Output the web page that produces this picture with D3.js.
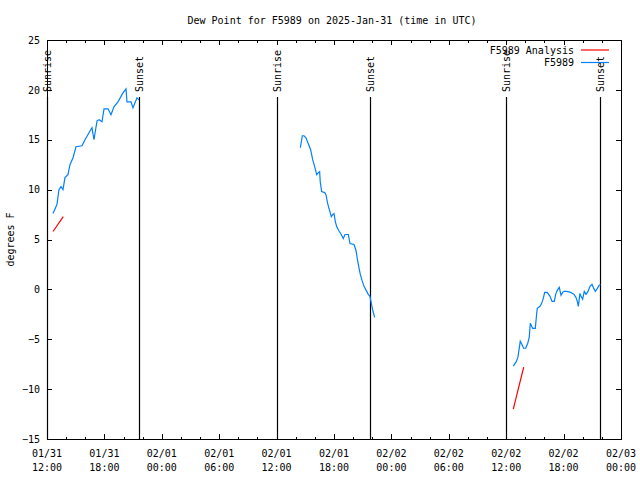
<!DOCTYPE html>
<html>
<head>
<meta charset="utf-8">
<script src="https://cdn.jsdelivr.net/npm/d3@7"></script>
<style>
  html, body { margin: 0; padding: 0; background: #fff; }
  svg { display: block; }
  text { font-family: "DejaVu Sans Mono", "Liberation Mono", monospace; font-size: 10px; fill: #000; }
</style>
</head>
<body>
<svg id="chart" width="640" height="480"></svg>
<script>
// ---- Data (hours since 2025-01-31 12:00 UTC) ----
const startTime = Date.UTC(2025, 0, 31, 12, 0);
const endTime = Date.UTC(2025, 1, 3, 0, 0);

const obs1Hours = [0.63, 1.04, 1.25, 1.46, 1.67, 1.88, 2.19, 2.40, 2.72, 3.03, 3.66, 3.97, 4.39, 4.70, 4.91, 5.23, 5.44, 5.75, 5.96, 6.38, 6.69, 7.00, 7.42, 7.94, 8.26, 8.36, 8.78, 8.99, 9.41, 9.62];
const obs1Vals  = [7.6, 8.5, 10.0, 10.3, 10.0, 11.2, 11.5, 12.5, 13.2, 14.3, 14.4, 15.0, 15.7, 16.2, 15.0, 16.9, 17.0, 16.8, 18.1, 18.1, 17.5, 18.3, 18.8, 19.7, 20.1, 18.8, 18.8, 18.2, 19.2, 19.0];

const obs2Hours = [26.48, 26.55, 26.69, 26.86, 27.07, 27.31, 27.56, 27.77, 27.98, 28.19, 28.36, 28.50, 28.56, 28.71, 29.03, 29.16, 29.34, 29.51, 29.72, 29.86, 30.00, 30.14, 30.28, 30.49, 30.76, 30.97, 31.15, 31.50, 31.67, 32.09, 32.30, 32.43, 32.58, 32.75, 32.93, 33.14, 33.42, 33.58, 33.76, 33.94, 34.08, 34.25];
const obs2Vals  = [14.2, 14.6, 15.4, 15.4, 15.2, 14.6, 14.0, 13.0, 12.3, 11.5, 11.7, 11.8, 10.8, 9.8, 9.7, 9.5, 8.6, 8.0, 7.3, 7.5, 7.6, 6.8, 6.3, 5.9, 5.5, 5.1, 5.5, 5.5, 4.6, 4.5, 3.9, 3.1, 2.3, 1.5, 0.9, 0.3, -0.2, -0.5, -0.7, -1.6, -2.2, -2.8];

const obs3Hours = [48.74, 49.02, 49.23, 49.47, 49.68, 49.83, 50.04, 50.25, 50.41, 50.52, 50.66, 50.77, 51.04, 51.19, 51.25, 51.53, 51.71, 51.88, 52.02, 52.29, 52.58, 52.79, 53.03, 53.17, 53.34, 53.55, 53.73, 53.90, 54.04, 54.32, 54.74, 55.08, 55.29, 55.43, 55.54, 55.71, 55.82, 55.99, 56.16, 56.34, 56.55, 56.76, 56.97, 57.15, 57.32, 57.53, 57.71, 57.85];
const obs3Vals  = [-7.7, -7.3, -6.8, -5.2, -5.6, -5.9, -5.9, -5.4, -4.8, -3.4, -3.7, -3.9, -3.9, -2.4, -1.9, -1.7, -1.4, -0.9, -0.3, -0.3, -0.7, -1.2, -1.2, -0.5, -0.1, 0.2, -0.6, -0.3, -0.2, -0.2, -0.3, -0.5, -0.8, -1.2, -1.7, -0.4, -0.7, -1.0, -0.2, -0.5, -0.2, 0.3, 0.5, 0.1, -0.2, 0.1, 0.4, 0.5];

const ana1Hours = [0.63, 1.70];
const ana1Vals  = [5.8, 7.3];
const ana3Hours = [48.74, 49.83];
const ana3Vals  = [-12.0, -7.8];

const sunHours  = [0.0, 9.62, 24.04, 33.76, 47.98, 57.80];
const sunLabels = ["Sunrise", "Sunset", "Sunrise", "Sunset", "Sunrise", "Sunset"];

const yTicks = [-15, -10, -5, 0, 5, 10, 15, 20, 25];
const xTickLabels = [["01/31","12:00"],["01/31","18:00"],["02/01","00:00"],["02/01","06:00"],["02/01","12:00"],["02/01","18:00"],["02/02","00:00"],["02/02","06:00"],["02/02","12:00"],["02/02","18:00"],["02/03","00:00"]];

const titleText = "Dew Point for F5989 on 2025-Jan-31 (time in UTC)";
const yLabel = "degrees F";
const legendNames = ["F5989 Analysis", "F5989"];
const colors = { analysis: "#ff0000", obs: "#0080ff" };

// ---- Layout ----
const W = 640, H = 480;
const m = { left: 47, right: 19, top: 40, bottom: 41 };
const x0 = m.left, x1 = W - m.right, y0 = m.top, y1 = H - m.bottom;

const toDate = h => new Date(startTime + h * 3600e3);
const x = d3.scaleUtc().domain([new Date(startTime), new Date(endTime)]).range([x0, x1]);
const y = d3.scaleLinear().domain([-15, 25]).range([y1, y0]);

const svg = d3.select("#chart");
svg.append("rect").attr("width", W).attr("height", H).attr("fill", "#fff");

// Axes (ticks inside, mirrored)
const majorTimes = d3.range(0, 61, 6).map(toDate);
const minorTimes = d3.range(0, 61, 2).filter(h => h % 6 !== 0).map(toDate);

function addAxis(gen, tx, ty) {
  const g = svg.append("g").attr("transform", `translate(${tx},${ty})`).call(gen);
  g.select(".domain").remove();
  g.selectAll("line").attr("stroke", "#000").attr("shape-rendering", "crispEdges");
  return g;
}
// bottom major with labels
const gxb = addAxis(d3.axisBottom(x).tickValues(majorTimes).tickSize(-5).tickFormat(""), 0, y1);
// bottom minor
addAxis(d3.axisBottom(x).tickValues(minorTimes).tickSize(-2.5).tickFormat(""), 0, y1);
// top major/minor
addAxis(d3.axisTop(x).tickValues(majorTimes).tickSize(-5).tickFormat(""), 0, y0);
addAxis(d3.axisTop(x).tickValues(minorTimes).tickSize(-2.5).tickFormat(""), 0, y0);
// left/right
const gyl = addAxis(d3.axisLeft(y).tickValues(yTicks).tickSize(-5).tickPadding(12).tickFormat(d3.format("d")), x0, 0);
gyl.selectAll("text").attr("font-family", "DejaVu Sans Mono").attr("font-size", 10).attr("x", -7).attr("fill", "#000");
addAxis(d3.axisRight(y).tickValues(yTicks).tickSize(-5).tickFormat(""), x1, 0);

// x tick labels (two lines)
const xl = svg.append("g");
majorTimes.forEach((t, i) => {
  const tx = x(t);
  const txt = xl.append("text").attr("text-anchor", "middle").attr("x", tx).attr("y", 457);
  txt.append("tspan").attr("x", tx).attr("y", 457).text(xTickLabels[i][0]);
  txt.append("tspan").attr("x", tx).attr("y", 471).text(xTickLabels[i][1]);
});

// Frame
svg.append("rect").attr("x", x0 + 0.5).attr("y", y0 + 0.5).attr("width", x1 - x0).attr("height", y1 - y0)
  .attr("fill", "none").attr("stroke", "#000").attr("stroke-width", 1);

// Sunrise/Sunset lines
sunHours.forEach((h, i) => {
  const sx = Math.round(x(toDate(h))) + 0.5;
  svg.append("line").attr("x1", sx).attr("x2", sx).attr("y1", 97).attr("y2", y1)
    .attr("stroke", "#000").attr("stroke-width", 1.2);
  svg.append("text").attr("transform", `translate(${sx + 3.5},92) rotate(-90)`)
    .attr("text-anchor", "start").text(sunLabels[i]);
});

// Lines
const line = d3.line().x(d => x(toDate(d[0]))).y(d => y(d[1]));
const zip = (a, b) => a.map((v, i) => [v, b[i]]);
[[obs1Hours, obs1Vals], [obs2Hours, obs2Vals], [obs3Hours, obs3Vals]].forEach(([hs, vs]) => {
  svg.append("path").attr("d", line(zip(hs, vs))).attr("fill", "none")
    .attr("stroke", colors.obs).attr("stroke-width", 1.2);
});
[[ana1Hours, ana1Vals], [ana3Hours, ana3Vals]].forEach(([hs, vs]) => {
  svg.append("path").attr("d", line(zip(hs, vs))).attr("fill", "none")
    .attr("stroke", colors.analysis).attr("stroke-width", 1.2);
});

// Legend
const legendColors = [colors.analysis, colors.obs];
legendNames.forEach((n, i) => {
  const ly = 50 + i * 12.5;
  svg.append("text").attr("x", 574).attr("y", ly + 3.5).attr("text-anchor", "end").text(n);
  svg.append("line").attr("x1", 581).attr("x2", 609).attr("y1", ly).attr("y2", ly)
    .attr("stroke", legendColors[i]).attr("stroke-width", 1.2);
});

// Title & y label
svg.append("text").attr("x", 332).attr("y", 24).attr("text-anchor", "middle").text(titleText);
svg.append("text").attr("transform", `translate(14,${(y0 + y1) / 2}) rotate(-90)`)
  .attr("text-anchor", "middle").text(yLabel);
</script>
</body>
</html>
